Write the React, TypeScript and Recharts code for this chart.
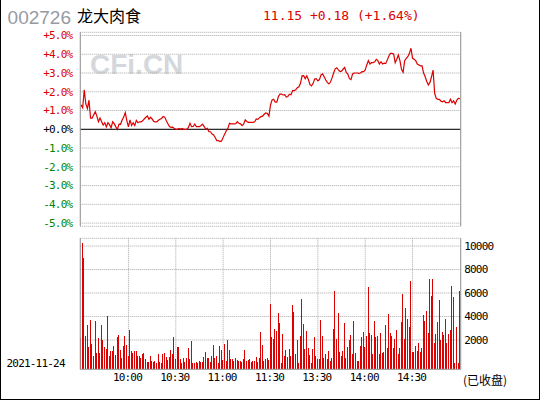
import React from "react";
import { ComposedChart, Line, Bar, XAxis, YAxis, CartesianGrid, ReferenceLine } from "recharts";

// ---- header text ----
const stockCode = "002726";
const stockName = "龙大肉食";
const quoteText = "11.15 +0.18 (+1.64%)";
const dateLabel = "2021-11-24";
const statusLabel = "(已收盘)";
const watermark = "CFi.CN";

// ---- percent change vs. previous close (10.97), one value per minute ----
const pctChange = [
  1.3, 1.15, 2.1, 1.35, 1.1, 1.55, 0.6, 0.6, 0.78, 0.94,
  0.7, 0.4, 0.6, 0.4, 0.23, 0.35, 0.13, 0.35, 0.25, 0.08,
  0.4, 0.3, 0.13, 0.0, 0.28, 0.27, 0.5, 0.65, 0.89, 0.45,
  0.13, 0.5, 0.2, 0.35, 0.2, 0.48, 0.35, 0.4, 0.4, 0.45,
  0.55, 0.64, 0.71, 0.53, 0.64, 0.55, 0.42, 0.4, 0.4, 0.48,
  0.53, 0.58, 0.68, 0.65, 0.45, 0.3, 0.15, 0.1, 0.12, 0.05,
  0.0, 0.0, 0.05, 0.0, 0.05, 0.0, 0.0, 0.0, 0.1, 0.32,
  0.14, 0.15, 0.28, 0.14, 0.14, 0.14, 0.2, 0.27, 0.14, 0.0,
  0.05, -0.13, -0.13, -0.25, -0.3, -0.45, -0.6, -0.6, -0.65, -0.62,
  -0.43, -0.25, -0.08, 0.05, 0.32, 0.29, 0.29, 0.29, 0.3, 0.41,
  0.32, 0.29, 0.2, 0.29, 0.5, 0.42, 0.37, 0.37, 0.37, 0.37,
  0.4, 0.55, 0.53, 0.62, 0.68, 0.7, 0.8, 0.87, 0.84, 0.7,
  1.3, 1.56, 1.6, 1.45, 1.45, 1.75, 1.87, 1.87, 1.83, 1.85,
  1.72, 1.75, 1.87, 1.84, 2.06, 2.06, 2.1, 2.22, 2.27, 2.45,
  2.85, 2.86, 2.7, 2.85, 2.65, 2.38, 2.31, 2.45, 2.68, 2.7,
  2.58, 2.65, 2.9, 2.95, 2.8, 2.63, 2.5, 2.42, 2.52, 2.74,
  3.0, 3.22, 3.28, 3.17, 3.08, 3.1, 3.2, 3.3, 3.03, 2.94,
  2.7, 2.65, 2.95, 3.0, 3.0, 3.0, 2.98, 3.0, 3.07, 3.07,
  3.16, 3.43, 3.66, 3.48, 3.55, 3.55, 3.6, 3.73, 3.66, 3.48,
  3.6, 3.48, 3.52, 3.5, 3.7, 3.91, 4.05, 4.05, 4.02, 3.55,
  3.73, 3.96, 3.66, 3.2, 3.04, 3.66, 3.78, 3.87, 4.05, 4.32,
  3.78, 3.73, 3.66, 3.48, 3.43, 3.38, 3.38, 3.0, 2.8, 2.55,
  2.36, 2.5, 2.8, 3.16, 1.92, 1.65, 1.6, 1.6, 1.5, 1.47,
  1.52, 1.42, 1.42, 1.42, 1.6, 1.42, 1.52, 1.35, 1.55, 1.65,
  1.64,
];

// ---- volume per minute ----
const volume = [
  2160, 10250, 8970, 2360, 3300, 1440, 3730, 1670, 640, 3650,
  870, 2160, 870, 3300, 1960, 1440, 1220, 4080, 640, 1070,
  1020, 1500, 730, 2250, 2450, 1160, 470, 1500, 2360, 1590,
  640, 2870, 1070, 870, 1070, 1070, 640, 640, 470, 790,
  870, 390, 130, 130, 640, 210, 130, 210, 50, 790,
  130, 50, 790, 870, 560, 300, 560, 1160, 790, 2250,
  390, 1390, 1390, 390, 40, 440, 130, 440, 1330, 390,
  1930, 40, 40, 130, 20, 210, 130, 130, 560, 990,
  470, 470, 130, 640, 1590, 470, 640, 20, 1500, 1160,
  300, 1670, 210, 2020, 1160, 390, 390, 210, 470, 300,
  210, 210, 130, 390, 1160, 210, 300, 390, 130, 210,
  210, 560, 130, 470, 2700, 1590, 210, 390, 470, 300,
  5100, 2250, 2070, 2960, 2790, 4330, 3470, 30, 2530, 640,
  1160, 560, 1240, 640, 5020, 4420, 820, 2020, 30, 2360,
  5530, 3400, 1240, 2790, 1330, 730, 30, 1240, 2280, 640,
  390, 390, 3720, 2360, 470, 820, 390, 1070, 210, 470,
  2960, 6140, 2100, 4330, 990, 640, 1070, 3470, 470, 1420,
  2020, 2450, 820, 3650, 900, 210, 210, 1500, 2280, 2700,
  1420, 2300, 6510, 2620, 2450, 820, 3650, 2270, 2360, 820,
  2620, 900, 990, 3300, 1330, 4250, 2620, 2360, 1330, 2100,
  2870, 820, 1330, 3560, 5880, 2100, 4680, 3820, 3130, 6990,
  990, 990, 1500, 1070, 1760, 990, 1330, 4160, 3650, 4500,
  2620, 7160, 5710, 7160, 1760, 2530, 3560, 5440, 2020, 2700,
  2450, 3820, 1760, 2530, 2870, 6560, 5620, 30, 3130, 30,
  6130,
];

// ---- axes ----
const pctTicks = [5, 4, 3, 2, 1, 0, -1, -2, -3, -4, -5];
const pctLabels = ["+5.0%", "+4.0%", "+3.0%", "+2.0%", "+1.0%", "+0.0%", "-1.0%", "-2.0%", "-3.0%", "-4.0%", "-5.0%"];
const priceLabels = ["11.52", "11.41", "11.30", "11.19", "11.08", "10.97", "10.86", "10.75", "10.64", "10.53", "10.42"];
const volTicks = [2000, 4000, 6000, 8000, 10000];
const volLabels = ["2000", "4000", "6000", "8000", "10000"];
const timeTicks = [30, 60, 90, 120, 150, 180, 210];
const timeLabels = ["10:00", "10:30", "11:00", "11:30", "13:30", "14:00", "14:30"];

const PCT_DOMAIN: [number, number] = [-5.17, 5.17];
const VOL_DOMAIN: [number, number] = [-500, 10660];
const X_DOMAIN: [number, number] = [-0.5, 240.5];

const RED = "#dd0000";
const GREEN = "#008800";
const FRAME = "#999999";
const GRID = "#a8a8a8";

const data = pctChange.map((p, i) => ({
  t: i,
  pct: p,
  vol: [VOL_DOMAIN[0], volume[i]],
}));

const monoFont: React.CSSProperties = {
  fontFamily: "'DejaVu Sans Mono', monospace",
  fontSize: 11,
  letterSpacing: -0.8,
};

const signColor = (v: number) => (v > 0 ? RED : v < 0 ? GREEN : "#000000");

const PctTick = (props: any) => {
  const { x, y, payload } = props;
  const idx = pctTicks.indexOf(payload.value);
  return (
    <text x={x} y={y} dy="0.35em" textAnchor="end" fill={signColor(payload.value)} style={monoFont}>
      {pctLabels[idx]}
    </text>
  );
};

const PriceTick = (props: any) => {
  const { x, y, payload } = props;
  const idx = pctTicks.indexOf(payload.value);
  return (
    <text x={x} y={y} dy="0.35em" textAnchor="start" fill={signColor(payload.value)} style={monoFont}>
      {priceLabels[idx]}
    </text>
  );
};

const VolTick = (props: any) => {
  const { x, y, payload } = props;
  const idx = volTicks.indexOf(payload.value);
  return (
    <text x={x} y={y} dy="0.35em" textAnchor="start" fill="#000000" style={monoFont}>
      {volLabels[idx]}
    </text>
  );
};

const TimeTick = (props: any) => {
  const { x, y, payload } = props;
  const idx = timeTicks.indexOf(payload.value);
  return (
    <text x={x} y={y} dx={-1} dy="0.35em" textAnchor="middle" fill="#000000" style={monoFont}>
      {timeLabels[idx]}
    </text>
  );
};

const CrispBar = (props: any) => {
  const { x, y, width, height, fill } = props;
  if (!(height > 0)) return null;
  return <rect x={x} y={y} width={width} height={height} fill={fill} shapeRendering="crispEdges" />;
};

export default function App() {
  return (
    <div
      style={{
        position: "absolute",
        left: 0,
        top: 0,
        width: 540,
        height: 400,
        background: "#ffffff",
        boxSizing: "border-box",
        borderLeft: "1px solid #000",
        borderRight: "1px solid #000",
        borderBottom: "1px solid #000",
        overflow: "hidden",
      }}
    >
      <svg width={540} height={400} style={{ position: "absolute", left: -1, top: 0 }}>
        <text x={90} y={74} fill="#d4d8dd" style={{ fontFamily: "'Liberation Sans', Arial, sans-serif", fontSize: 28, fontWeight: 700 }}>
          {watermark}
        </text>
        <text x={7.6} y={24} fill="#969ba3" style={{ fontFamily: "'Liberation Sans', Arial, sans-serif", fontSize: 19 }}>
          {stockCode}
        </text>
        <text x={77} y={22} fill="#000000" style={{ fontFamily: "'Noto Sans CJK SC', sans-serif", fontSize: 16 }}>
          {stockName}
        </text>
        <text x={263} y={19.5} fill={RED} style={{ fontFamily: "'DejaVu Sans Mono', monospace", fontSize: 13 }}>
          {quoteText}
        </text>
        <text x={6.5} y={363.3} dy="0.35em" fill="#000000" style={monoFont}>
          {dateLabel}
        </text>
        <text x={463} y={384.5} fill="#000000" style={{ fontFamily: "'Noto Sans CJK SC', sans-serif", fontSize: 12 }}>
          {statusLabel}
        </text>
      </svg>

      <div style={{ position: "absolute", left: -1, top: 0 }}>
        <ComposedChart width={540} height={240} data={data} margin={{ top: 32.3, right: 19.3, bottom: 13.7, left: 20.3 }}>
          <CartesianGrid yAxisId="l" stroke={GRID} strokeDasharray="1 1" />
          <XAxis dataKey="t" type="number" domain={X_DOMAIN} ticks={timeTicks} tick={false} tickLine={false} height={0} axisLine={{ stroke: FRAME }} />
          <XAxis xAxisId="top" orientation="top" dataKey="t" type="number" domain={X_DOMAIN} tick={false} tickLine={false} height={0} axisLine={{ stroke: FRAME }} />
          <YAxis yAxisId="l" type="number" domain={PCT_DOMAIN} ticks={pctTicks} width={60} tickSize={0} tickMargin={8} tickLine={false} axisLine={{ stroke: FRAME }} tick={<PctTick />} interval={0} />
          <YAxis yAxisId="r" orientation="right" type="number" domain={PCT_DOMAIN} ticks={pctTicks} width={60} tickSize={0} tickMargin={1.8} tickLine={false} axisLine={{ stroke: FRAME }} tick={<PriceTick />} interval={0} />
          <ReferenceLine yAxisId="l" y={0} stroke="#000000" strokeWidth={1} />
          <Line yAxisId="l" type="linear" dataKey="pct" stroke={RED} strokeWidth={1.2} dot={false} isAnimationActive={false} />
        </ComposedChart>
      </div>

      <div style={{ position: "absolute", left: -1, top: 0 }}>
        <ComposedChart width={540} height={400} data={data} margin={{ top: 238.3, right: 19.3, bottom: 0, left: 20.3 }}>
          <CartesianGrid yAxisId="r" stroke={GRID} strokeDasharray="1 1" />
          <XAxis dataKey="t" type="number" domain={X_DOMAIN} ticks={timeTicks} height={30.7} tickSize={0} tickMargin={7.4} tickLine={false} axisLine={{ stroke: FRAME }} tick={<TimeTick />} interval={0} />
          <XAxis xAxisId="top" orientation="top" dataKey="t" type="number" domain={X_DOMAIN} tick={false} tickLine={false} height={0} axisLine={{ stroke: FRAME }} />
          <YAxis yAxisId="l" type="number" domain={VOL_DOMAIN} ticks={volTicks} width={60} tick={false} tickLine={false} axisLine={{ stroke: FRAME }} />
          <YAxis yAxisId="r" orientation="right" type="number" domain={VOL_DOMAIN} ticks={volTicks} width={60} tickSize={0} tickMargin={3.5} tickLine={false} axisLine={{ stroke: FRAME }} tick={<VolTick />} interval={0} allowDataOverflow />
          <Bar yAxisId="r" dataKey="vol" fill={RED} barSize={1} shape={<CrispBar />} isAnimationActive={false} />
        </ComposedChart>
      </div>
    </div>
  );
}
